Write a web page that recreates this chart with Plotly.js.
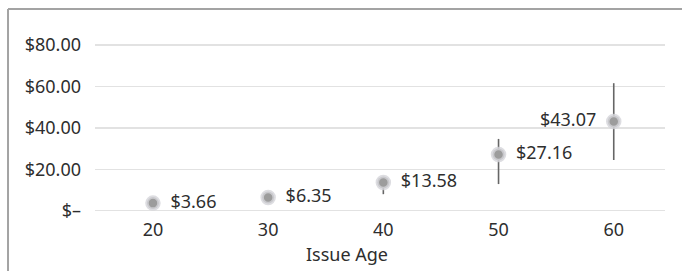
<!DOCTYPE html>
<html>
<head>
<meta charset="utf-8">
<script src="https://cdn.plot.ly/plotly-3.0.1.min.js"></script>
<style>html,body{margin:0;padding:0;background:#fff;}#chart{width:682px;height:271px;}</style>
</head>
<body>
<div id="chart"></div>
<script>
// Data
var issueAges = [20, 30, 40, 50, 60];
var premiums = [3.66, 6.35, 13.58, 27.16, 43.07];
var premiumLabels = ["$3.66", "$6.35", "$13.58", "$27.16", "$43.07"];
var errorPlus = [1.0, 1.0, 2.5, 7.5, 18.5];
var errorMinus = [1.0, 1.0, 5.6, 14.3, 18.6];
var labelPositions = ["middle right", "middle right", "middle right", "middle right", "middle left"];
var yTickVals = [0, 20, 40, 60, 80];
var yTickText = ["$–", "$20.00", "$40.00", "$60.00", "$80.00"];
var xTickVals = [20, 30, 40, 50, 60];
var xTickText = ["20", "30", "40", "50", "60"];
var xTitle = "Issue Age";

var font = "Noto Sans, Open Sans, sans-serif";
var txtColor = "#2e2e2e";
var fs = 18;

// pad labels away from the marker on the side they sit
var paddedLabels = premiumLabels.map(function (t, i) {
  return labelPositions[i].indexOf("left") >= 0 ? t + "\u2002" : "\u2002" + t;
});

var trace = {
  type: "scatter",
  mode: "markers+text",
  x: issueAges,
  y: premiums,
  text: paddedLabels,
  textposition: labelPositions,
  textfont: {family: font, size: fs, color: txtColor},
  marker: {size: 12, color: "#9c9c9c", line: {color: "rgba(212,212,218,0.8)", width: 3.5}},
  error_y: {type: "data", symmetric: false, array: errorPlus, arrayminus: errorMinus,
            color: "#666666", thickness: 1.6, width: 0},
  cliponaxis: false,
  hoverinfo: "none"
};

var layout = {
  width: 682, height: 271,
  margin: {l: 95, r: 17, t: 30, b: 54},
  paper_bgcolor: "#ffffff",
  plot_bgcolor: "#ffffff",
  showlegend: false,
  font: {family: font, size: fs, color: txtColor},
  xaxis: {
    range: [14.97, 64.45],
    tickvals: xTickVals, ticktext: xTickText,
    showgrid: false, zeroline: false, showline: false, ticks: "",
    tickfont: {family: font, size: fs, color: txtColor}
  },
  yaxis: {
    range: [-3.04, 87.25],
    tickvals: yTickVals, ticktext: yTickText,
    showgrid: true, gridcolor: "#e2e2e2", gridwidth: 1.5,
    zeroline: false, showline: false, ticks: "",
    ticklabelstandoff: 13,
    tickfont: {family: font, size: fs, color: txtColor}
  },
  annotations: [
    {text: xTitle, xref: "paper", yref: "paper", x: 0.442, y: -0.199,
     xanchor: "center", yanchor: "middle", showarrow: false,
     font: {family: font, size: fs, color: txtColor}}
  ],
  shapes: [
    {type: "line", xref: "paper", yref: "paper", x0: -0.1526, x1: 1.04, y0: 1.112, y1: 1.112,
     line: {color: "#a3a3a3", width: 2}},
    {type: "line", xref: "paper", yref: "paper", x0: -0.1526, x1: -0.1526, y0: 1.112, y1: -0.3,
     line: {color: "#a3a3a3", width: 2}}
  ]
};

Plotly.newPlot("chart", [trace], layout, {staticPlot: true, displayModeBar: false});
</script>
</body>
</html>
